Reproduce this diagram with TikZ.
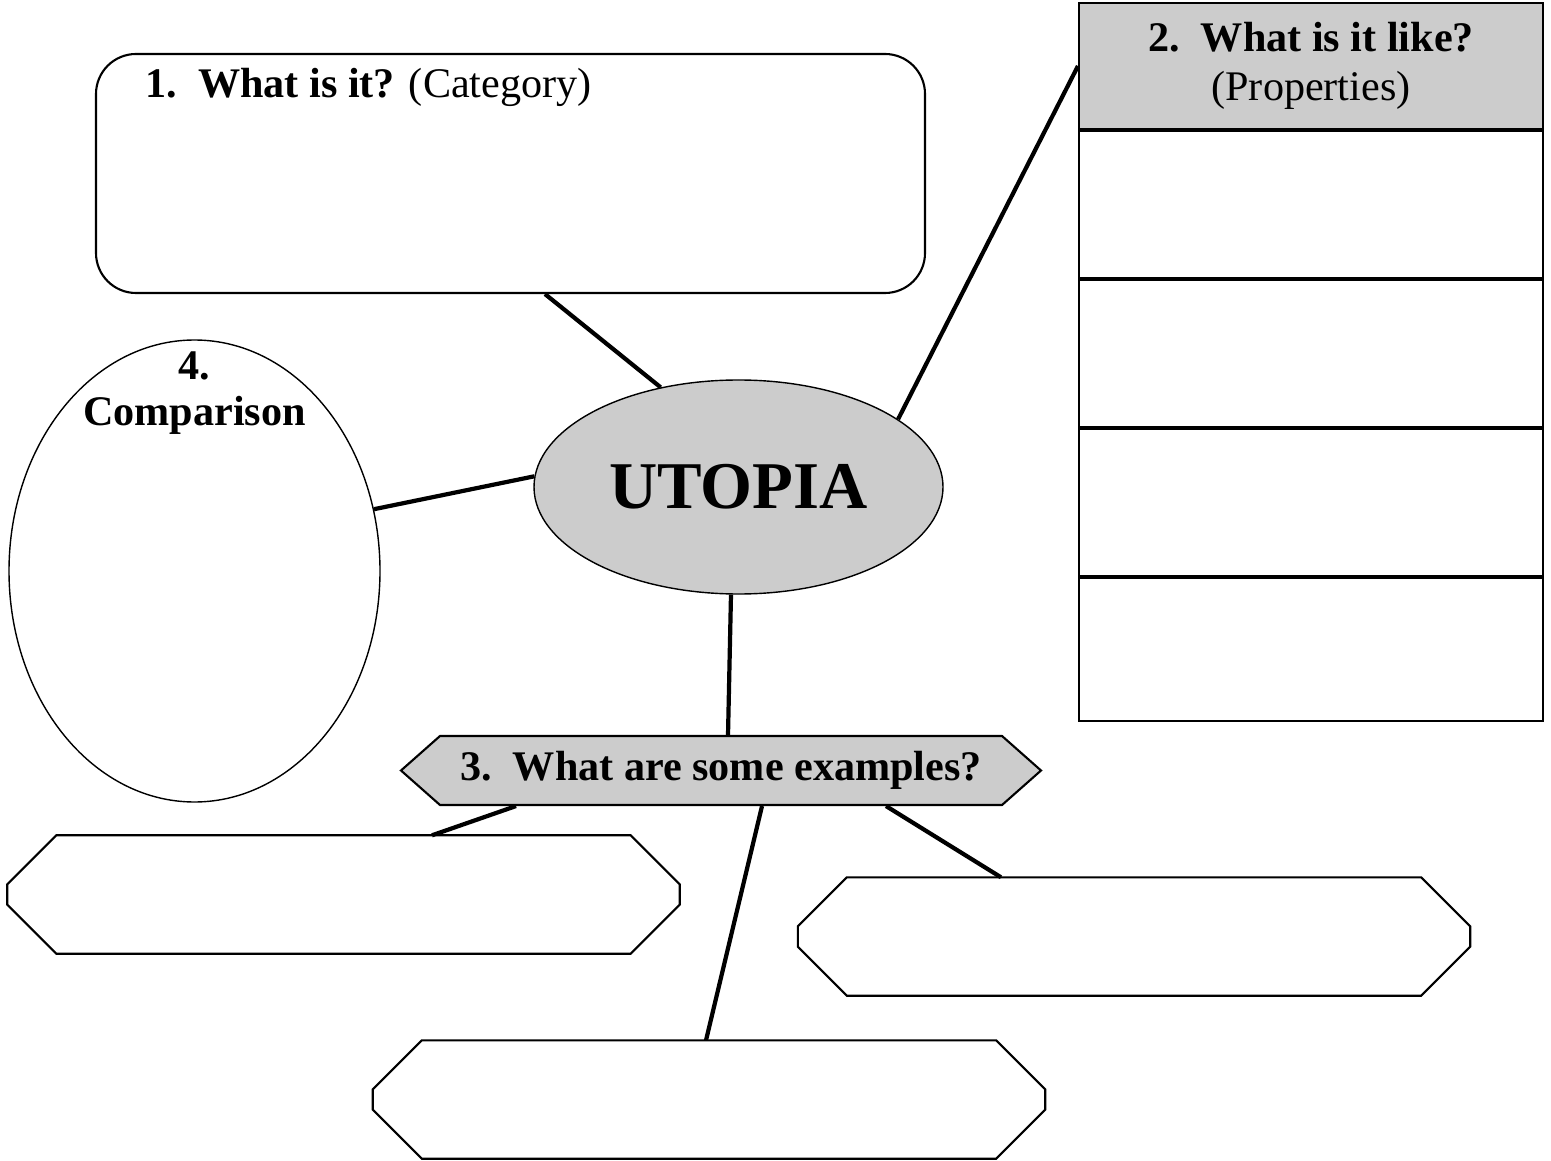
\documentclass[tikz,border=0pt]{standalone}
\usepackage{fontspec}
\setmainfont{Liberation Serif}
\usetikzlibrary{positioning,shapes.geometric,shapes.symbols}
\begin{document}
\begin{tikzpicture}[
    font=\fontsize{12}{14}\selectfont,
    link/.style={line width=1.2pt},
    greyfill/.style={fill=black!20},
    cell/.style={draw, line width=0.6pt, inner sep=0pt, minimum width=4.64cm, minimum height=1.47cm},
    octbox/.style={inner sep=0pt, minimum width=6.71cm, minimum height=1.17cm}
  ]
  \useasboundingbox (0,0) rectangle (15.51,11.60);

  \node[draw, line width=0.6pt, rounded corners=0.4cm, minimum width=8.29cm, minimum height=2.39cm] (cat) at (5.105,9.865) {};
  \node[anchor=north west] (cattxt) at ([xshift=0.38cm,yshift=-0.03cm]cat.north west) {\textbf{1.\enspace What is it?} (Category)};

  \node[cell, greyfill, minimum height=1.26cm, align=center] (props) at (13.11,10.94) {\textbf{2.\enspace What is it like?}\\(Properties)};
  \node[cell, below=0pt of props] (row1) {};
  \node[cell, below=0pt of row1] (row2) {};
  \node[cell, below=0pt of row2] (row3) {};
  \node[cell, below=0pt of row3, minimum height=1.43cm] (row4) {};

  \node[draw, ellipse, inner sep=0pt, minimum width=3.71cm, minimum height=4.62cm] (cmp) at (1.945,5.89) {};
  \node[anchor=north, align=center, font=\fontsize{12}{13}\selectfont\bfseries] (cmptxt) at (cmp.north) {4.\\Comparison};

  \node[draw, ellipse, greyfill, inner sep=0pt, minimum width=4.09cm, minimum height=2.14cm,
    font=\fontsize{19}{22}\selectfont\bfseries] (utopia) at (7.385,6.73) {UTOPIA};

  \node[draw, line width=0.6pt, greyfill, signal, signal to=west and east, signal pointer angle=83,
    inner sep=0pt, minimum width=6.40cm, minimum height=0.69cm] (ex) at (7.21,3.895) {\textbf{3.\enspace What are some examples?}};

  \node[octbox] (exa) at (3.435,2.655) {};
  \node[octbox] (exb) at (11.34,2.235) {};
  \node[octbox] (exc) at (7.09,0.605) {};
  \foreach \b in {exa,exb,exc}
    \draw[line width=0.6pt] ([xshift=0.49cm]\b.north west) -- ([xshift=-0.49cm]\b.north east)
      -- ([yshift=-0.49cm]\b.north east) -- ([yshift=0.49cm]\b.south east)
      -- ([xshift=-0.49cm]\b.south east) -- ([xshift=0.49cm]\b.south west)
      -- ([yshift=0.49cm]\b.south west) -- ([yshift=-0.49cm]\b.north west) -- cycle;

  \draw[link] ([xshift=0.345cm]cat.south) -- (utopia.128);
  \draw[link] (props.west) -- (utopia.23);
  \draw[link] (cmp.19) -- (utopia.177);
  \draw[link] (utopia.266) -- ([xshift=0.07cm]ex.north);
  \draw[link] ([xshift=-2.05cm]ex.south) -- ([xshift=0.885cm]exa.north);
  \draw[link] ([xshift=0.41cm]ex.south) -- ([xshift=-0.03cm]exc.north);
  \draw[link] ([xshift=1.65cm]ex.south) -- ([xshift=-1.33cm]exb.north);
\end{tikzpicture}
\end{document}
